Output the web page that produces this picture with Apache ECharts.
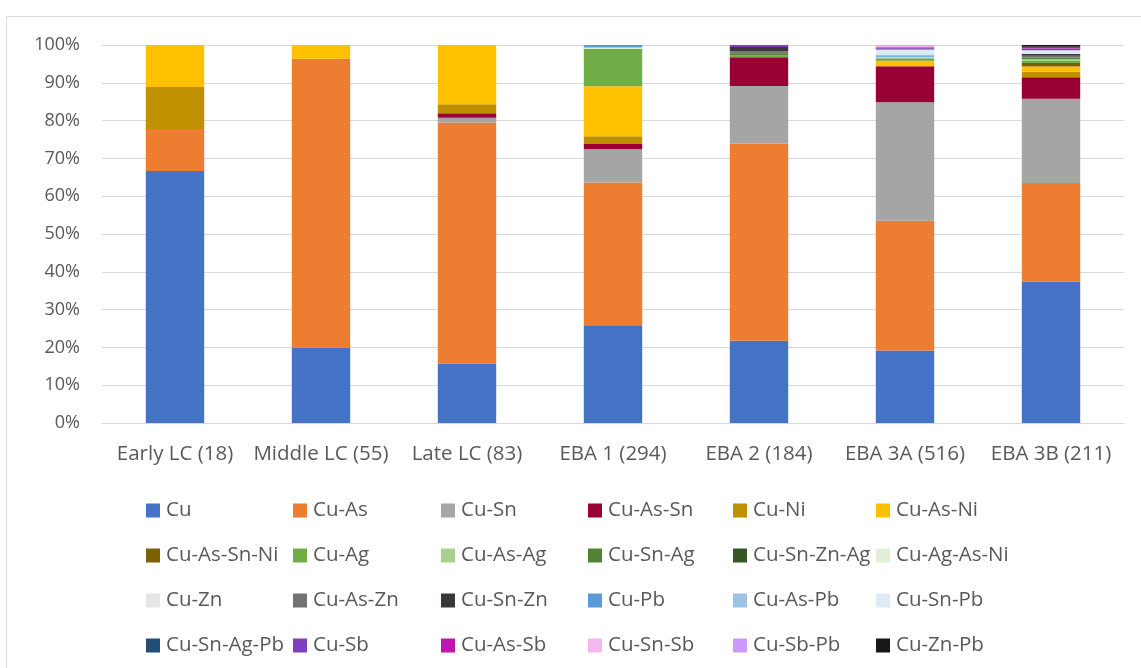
<!DOCTYPE html>
<html>
<head>
<meta charset="utf-8">
<script src="https://cdn.jsdelivr.net/npm/echarts@6/dist/echarts.min.js"></script>
<style>
  html, body { margin: 0; padding: 0; background: #fff; }
  #chart { width: 1141px; height: 668px; }
</style>
</head>
<body>
<div id="chart"></div>
<script>
// Periods and sample sizes (n shown in the category label)
const periods = ['Early LC', 'Middle LC', 'Late LC', 'EBA 1', 'EBA 2', 'EBA 3A', 'EBA 3B'];
const totals = [18, 55, 83, 294, 184, 516, 211];

// Alloy groups in stacking order, with their fill colours
const alloys = ['Cu', 'Cu-As', 'Cu-Sn', 'Cu-As-Sn', 'Cu-Ni', 'Cu-As-Ni',
  'Cu-As-Sn-Ni', 'Cu-Ag', 'Cu-As-Ag', 'Cu-Sn-Ag', 'Cu-Sn-Zn-Ag', 'Cu-Ag-As-Ni',
  'Cu-Zn', 'Cu-As-Zn', 'Cu-Sn-Zn', 'Cu-Pb', 'Cu-As-Pb', 'Cu-Sn-Pb',
  'Cu-Sn-Ag-Pb', 'Cu-Sb', 'Cu-As-Sb', 'Cu-Sn-Sb', 'Cu-Sb-Pb', 'Cu-Zn-Pb'];
const colors = ['#4472C4', '#ED7D31', '#A5A5A5', '#990033', '#BF9000', '#FFC000',
  '#7F6000', '#70AD47', '#A9D18E', '#548235', '#375623', '#E2F0D9',
  '#E7E6E6', '#767171', '#3B3838', '#5B9BD5', '#9DC3E6', '#DEEBF7',
  '#1F4E79', '#7F3FBF', '#BF17AD', '#F4B8EE', '#CC99FF', '#181818'];

// Object counts per alloy group, one value per period
const cu         = [12, 11, 13, 76, 40, 99, 79];
const cuAs       = [2, 42, 53, 111, 96, 177, 55];
const cuSn       = [0, 0, 1, 26, 28, 162, 47];
const cuAsSn     = [0, 0, 1, 4, 14, 49, 12];
const cuNi       = [2, 0, 2, 6, 0, 0, 3];
const cuAsNi     = [2, 2, 13, 39, 0, 7, 3];
const cuAsSnNi   = [0, 0, 0, 0, 0, 1, 2];
const cuAg       = [0, 0, 0, 29, 1, 2, 1];
const cuAsAg     = [0, 0, 0, 0, 0, 1, 1];
const cuSnAg     = [0, 0, 0, 0, 1, 1, 1];
const cuSnZnAg   = [0, 0, 0, 0, 0, 0, 0];
const cuAgAsNi   = [0, 0, 0, 1, 0, 0, 0];
const cuZn       = [0, 0, 0, 0, 0, 1, 0];
const cuAsZn     = [0, 0, 0, 0, 1, 0, 1];
const cuSnZn     = [0, 0, 0, 0, 2, 0, 1];
const cuPb       = [0, 0, 0, 2, 0, 1, 0];
const cuAsPb     = [0, 0, 0, 0, 0, 2, 0];
const cuSnPb     = [0, 0, 0, 0, 0, 7, 2];
const cuSnAgPb   = [0, 0, 0, 0, 0, 1, 0];
const cuSb       = [0, 0, 0, 0, 1, 1, 1];
const cuAsSb     = [0, 0, 0, 0, 0, 1, 1];
const cuSnSb     = [0, 0, 0, 0, 0, 2, 0];
const cuSbPb     = [0, 0, 0, 0, 0, 1, 0];
const cuZnPb     = [0, 0, 0, 0, 0, 0, 1];

const counts = [cu, cuAs, cuSn, cuAsSn, cuNi, cuAsNi, cuAsSnNi, cuAg, cuAsAg,
  cuSnAg, cuSnZnAg, cuAgAsNi, cuZn, cuAsZn, cuSnZn, cuPb, cuAsPb, cuSnPb,
  cuSnAgPb, cuSb, cuAsSb, cuSnSb, cuSbPb, cuZnPb];

const yTicks = [0, 10, 20, 30, 40, 50, 60, 70, 80, 90, 100];

const FONT = '"Open Sans", "Noto Sans", sans-serif';
const TEXT = '#595959';
const FS = 20.5;

const categories = periods.map((p, i) => p + ' (' + totals[i] + ')');

const series = alloys.map((name, k) => ({
  name: name,
  type: 'bar',
  stack: 'share',
  barWidth: '40%',
  itemStyle: { color: colors[k] },
  emphasis: { disabled: true },
  data: counts[k].map((c, i) => c / totals[i] * 100)
}));

// Legend laid out as a 6-column grid, one legend block per entry
const colX = [146, 293, 441, 588, 733, 876];
const rowY = [500, 545, 590, 635];
const legends = alloys.map((name, k) => ({
  data: [name],
  left: colX[k % 6],
  top: rowY[Math.floor(k / 6)],
  padding: 0,
  icon: 'rect',
  itemWidth: 14,
  itemHeight: 14,
  selectedMode: false,
  textStyle: { color: TEXT, fontSize: FS, fontFamily: FONT, padding: [0, 0, 0, 1] }
}));

const chart = echarts.init(document.getElementById('chart'), null, { renderer: 'canvas' });
chart.setOption({
  animation: false,
  color: colors,
  graphic: [{
    type: 'rect',
    shape: { x: 6.5, y: 16.5, width: 1200, height: 700 },
    style: { fill: 'none', stroke: '#D9D9D9', lineWidth: 1 },
    silent: true
  }],
  grid: { left: 102, right: 17, top: 45, bottom: 245, containLabel: false },
  legend: legends,
  xAxis: {
    type: 'category',
    data: categories,
    axisLine: { lineStyle: { color: '#D9D9D9', width: 1 } },
    axisTick: { show: false },
    axisLabel: { color: TEXT, fontSize: FS, fontFamily: FONT, margin: 21, interval: 0 }
  },
  yAxis: {
    type: 'value',
    min: yTicks[0],
    max: yTicks[yTicks.length - 1],
    interval: 10,
    axisLine: { show: false },
    axisTick: { show: false },
    splitLine: { lineStyle: { color: '#D9D9D9', width: 1 } },
    axisLabel: { color: TEXT, fontSize: 18, fontFamily: FONT, margin: 22, formatter: '{value}%' }
  },
  series: series
});
</script>
</body>
</html>
